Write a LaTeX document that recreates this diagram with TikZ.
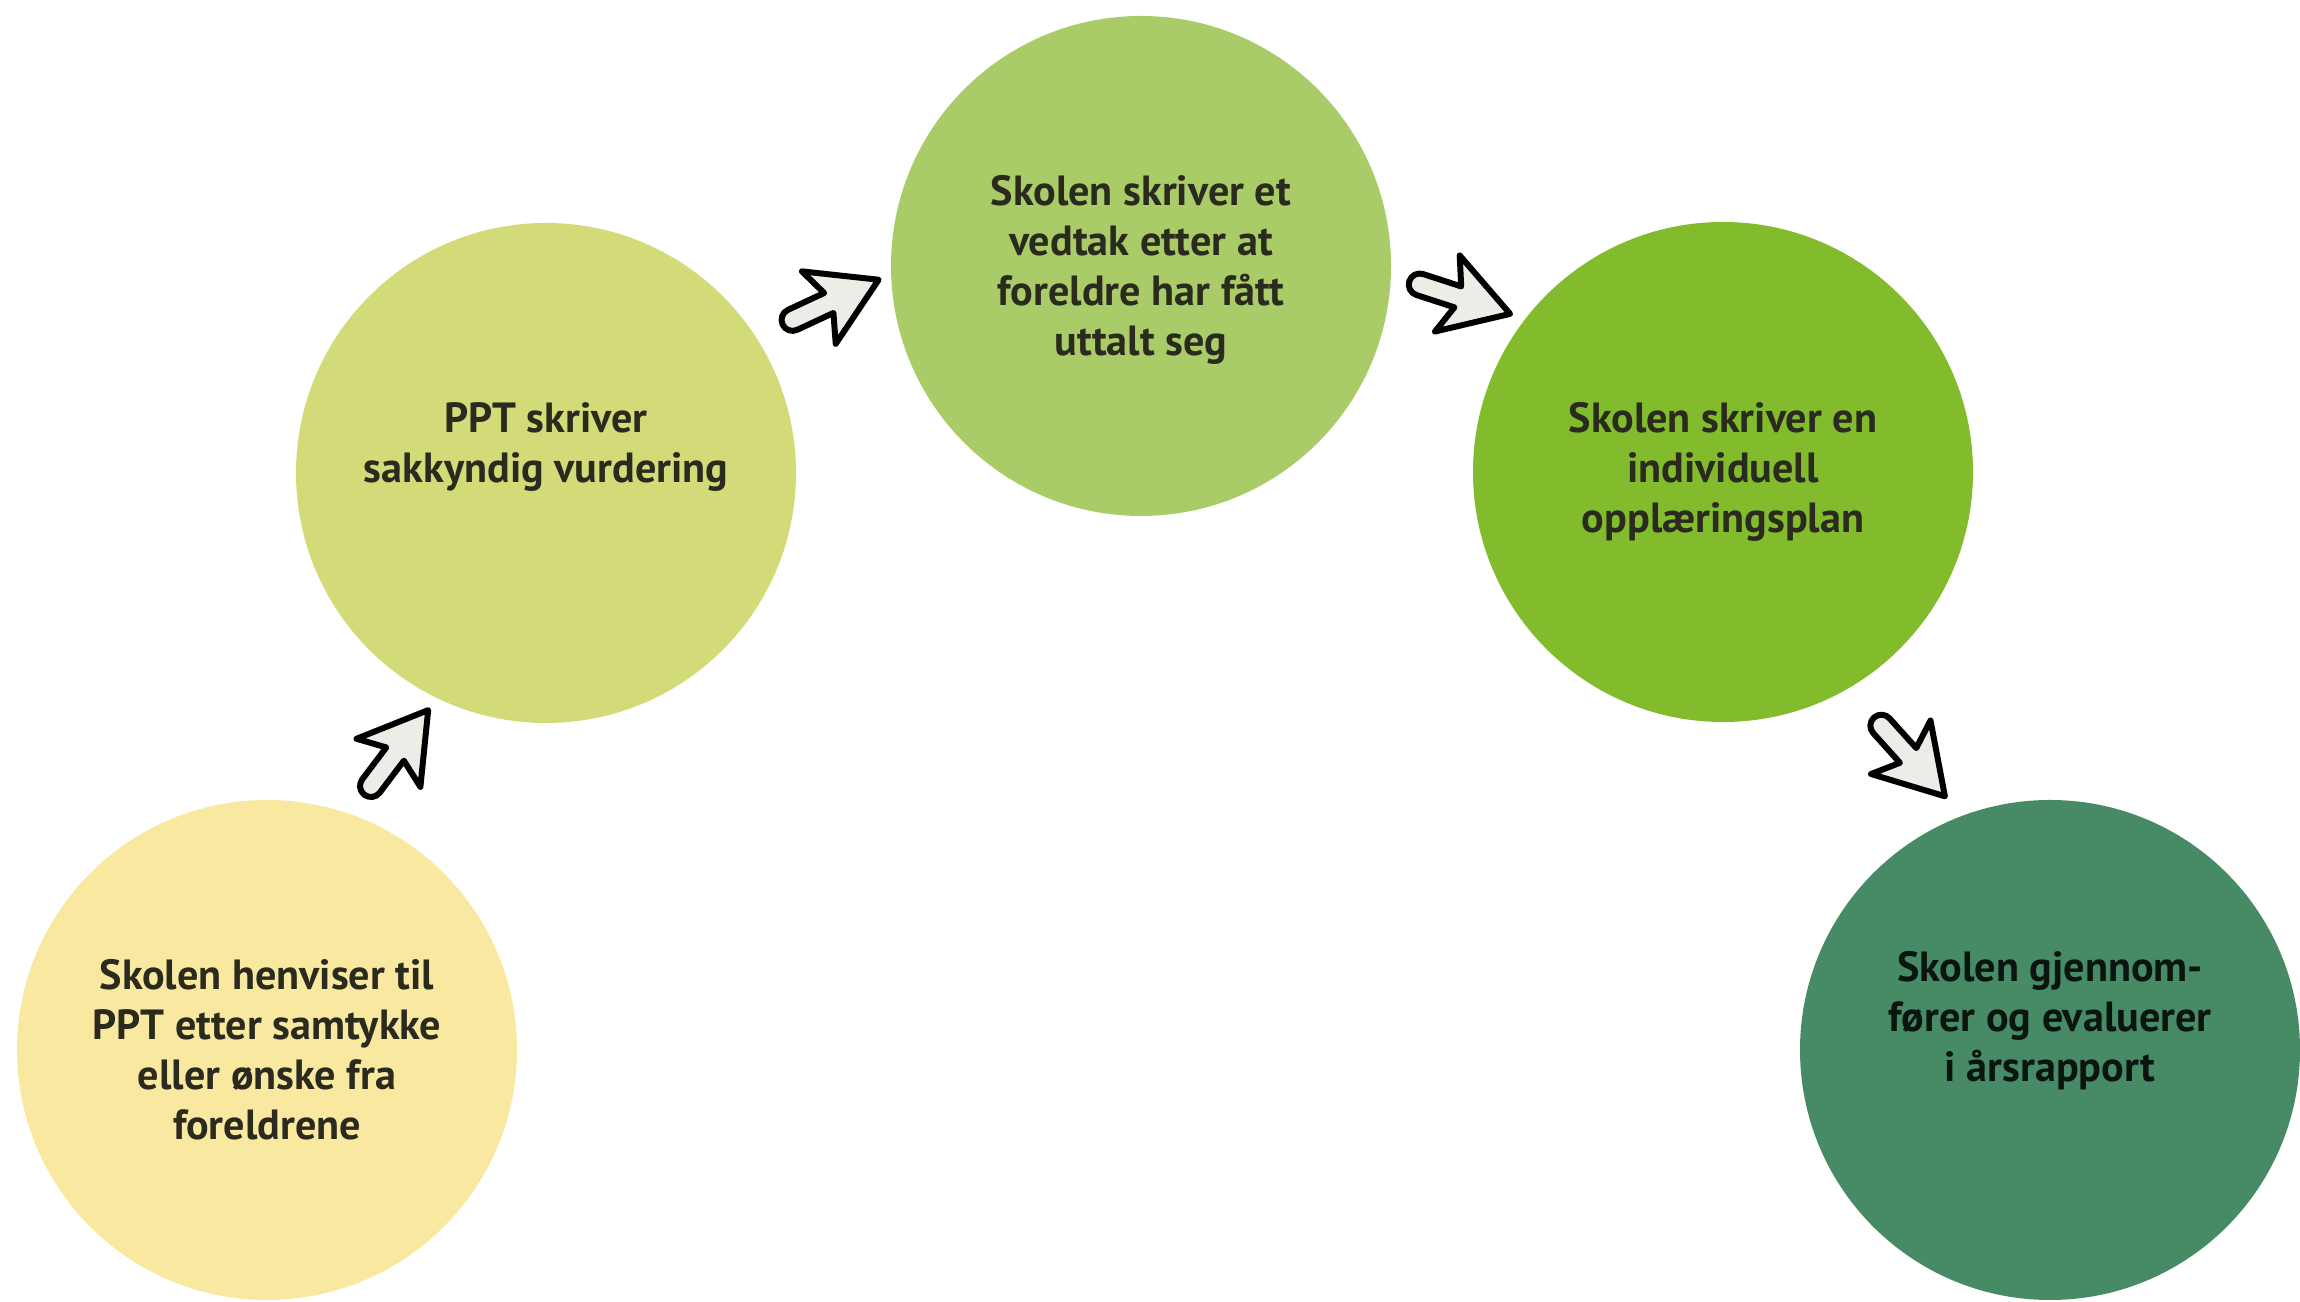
\documentclass[tikz,border=0pt]{standalone}
\usepackage{fontspec}
\setmainfont{PT Sans}
\usepackage{tikz}
\usetikzlibrary{calc,shapes}
\definecolor{stepA}{HTML}{F9E9A0}
\definecolor{stepB}{HTML}{D3DB79}
\definecolor{stepC}{HTML}{A9CB68}
\definecolor{stepD}{HTML}{82BB2C}
\definecolor{stepE}{HTML}{468B66}
\definecolor{inkdark}{HTML}{2A2A1E}
\definecolor{arrowfill}{HTML}{EEECE6}
\newcommand{\tikzStepArrow}[3]{
  \path[draw=black,line width=1.7pt,fill=arrowfill,line join=round,shift={(#2)},rotate=#3]
    (0.05,0.11) -- (0.45,0.11) -- (0.34,0.4) -- (1.0,0) -- (0.34,-0.4) -- (0.45,-0.11) -- (0.05,-0.11) arc (-90:-270:0.11) -- cycle;
}

\begin{document}
\begin{tikzpicture}[stepcircle/.style={draw=none,circle,minimum size=5cm,inner sep=0pt},
  steptext/.style={align=center,font=\bfseries\fontsize{12}{14.2}\selectfont,text=inkdark}]
  \useasboundingbox (0,0) rectangle (23,13.02);
  \node [stepcircle,fill=stepA] (c1) at ( 2.67, 2.52) {};
  \node [stepcircle,fill=stepB] (c2) at ( 5.46, 8.29) {};
  \node [stepcircle,fill=stepC] (c3) at (11.41,10.36) {};
  \node [stepcircle,fill=stepD] (c4) at (17.23, 8.30) {};
  \node [stepcircle,fill=stepE] (c5) at (20.50, 2.52) {};
  \node [steptext] (t1) at (c1) {Skolen henviser til\\PPT etter samtykke\\eller ønske fra\\foreldrene};
  \node [steptext] (t2) at ([yshift=0.26cm]c2) {PPT skriver\\sakkyndig vurdering};
  \node [steptext] (t3) at ([yshift=-0.04cm]c3) {Skolen skriver et\\vedtak etter at\\foreldre har fått\\uttalt seg};
  \node [steptext] (t4) at (c4) {Skolen skriver en\\individuell\\opplæringsplan};
  \node [steptext,text=black!85!stepE] (t5) at ([yshift=0.29cm]c5) {Skolen gjennom-\\fører og evaluerer\\i årsrapport};
  \tikzStepArrow{a1}{3.68,5.12}{53}
  \tikzStepArrow{a2}{7.88,9.80}{25}
  \tikzStepArrow{a3}{14.15,10.19}{-18}
  \tikzStepArrow{a4}{18.78,5.80}{-48}
\end{tikzpicture}
\end{document}
